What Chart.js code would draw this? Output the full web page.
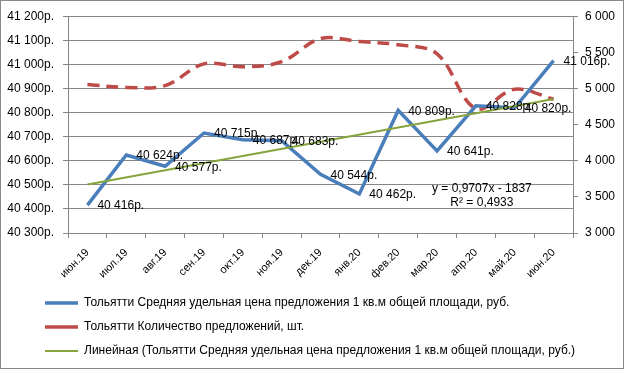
<!DOCTYPE html>
<html>
<head>
<meta charset="utf-8">
<script src="https://cdn.jsdelivr.net/npm/chart.js@4.4.0/dist/chart.umd.min.js"></script>
<style>
html,body{margin:0;padding:0;background:#fff}
</style>
</head>
<body>
<canvas id="myCanvas" width="624" height="369"></canvas>
<script>
// data
var months = ["июн.19","июл.19","авг.19","сен.19","окт.19","ноя.19","дек.19","янв.20","фев.20","мар.20","апр.20","май.20","июн.20"];
var price = [40416, 40624, 40577, 40715, 40687, 40683, 40544, 40462, 40809, 40641, 40828, 40820, 41016];
var offers = [5055, 5015, 5040, 5340, 5300, 5370, 5690, 5650, 5605, 5480, 4720, 4990, 4850];
// trend line ends (Excel linear trendline)
var trend = [40501, null, null, null, null, null, null, null, null, null, null, null, 40856];
var priceTicks = [40300, 40400, 40500, 40600, 40700, 40800, 40900, 41000, 41100, 41200];
var offerTicks = [3000, 3500, 4000, 4500, 5000, 5500, 6000];
var equation = ["y = 0,9707x - 1837", "R² = 0,4933"];

var nameBlue = "Тольятти Средняя удельная цена предложения 1 кв.м общей площади, руб.";
var nameRed = "Тольятти Количество предложений, шт.";
var nameGreen = "Линейная (Тольятти Средняя удельная цена предложения 1 кв.м общей площади, руб.)";

var gridCol = "#868686";

function fmt(v){
    return String(Math.round(v)).replace(/\B(?=(\d{3})+(?!\d))/g, " ");
}

Chart.defaults.font.family = "'Liberation Sans', Arial, sans-serif";
Chart.defaults.font.size = 12;
Chart.defaults.color = "#000";

var frame = {
    id: "frame",
    afterLayout: function(chart){
        // legend rows start indented like in Excel
        chart.legend.left = 33;
    },
    beforeDraw: function(chart){
        var c = chart.ctx;
        c.save();
        c.fillStyle = "#fff";
        c.fillRect(0, 0, chart.width, chart.height);
        c.strokeStyle = "#888";
        c.lineWidth = 1;
        c.strokeRect(0.5, 0.5, chart.width - 1, chart.height - 1);
        c.restore();
    }
};

var valueLabels = {
    id: "valueLabels",
    afterDatasetsDraw: function(chart){
        var c = chart.ctx;
        var meta = chart.getDatasetMeta(0);
        c.save();
        c.font = "12px 'Liberation Sans', Arial, sans-serif";
        c.fillStyle = "#000";
        c.textAlign = "left";
        c.textBaseline = "middle";
        meta.data.forEach(function(pt, i){
            c.fillText(fmt(price[i]) + "р.", pt.x + 10, pt.y + 1);
        });
        // trendline equation
        var xs = chart.scales.x, ys = chart.scales.y;
        var ex = xs.getPixelForValue(10) + 6;
        var ey = ys.getPixelForValue(40485);
        c.textAlign = "center";
        c.fillText(equation[0], ex, ey);
        c.fillText(equation[1], ex, ey + 14);
        c.restore();
    }
};

var ctx = document.getElementById("myCanvas").getContext("2d");

var data = {
    labels: months,
    datasets: [
        {
            label: nameBlue,
            data: price,
            yAxisID: "y",
            borderColor: "#4a7ebb",
            backgroundColor: "#4a7ebb",
            borderWidth: 3.5,
            pointRadius: 0,
            tension: 0,
            fill: false,
            order: 1
        },
        {
            label: nameRed,
            data: offers,
            yAxisID: "y1",
            borderColor: "#be4b48",
            backgroundColor: "#be4b48",
            borderWidth: 3.5,
            borderDash: [12, 7],
            pointRadius: 0,
            tension: 0.35,
            fill: false,
            order: 2
        },
        {
            label: nameGreen,
            data: trend,
            yAxisID: "y",
            borderColor: "#86a43c",
            backgroundColor: "#86a43c",
            borderWidth: 2,
            pointRadius: 0,
            spanGaps: true,
            fill: false,
            order: 0
        }
    ]
};

var options = {
    responsive: false,
    animation: false,
    devicePixelRatio: 1,
    layout: { padding: { left: 0, right: 0, top: 14, bottom: 2 } },
    plugins: {
        title: { display: false },
        tooltip: { enabled: false },
        legend: {
            display: true,
            position: "bottom",
            align: "start",
            labels: {
                usePointStyle: true,
                pointStyle: "line",
                pointStyleWidth: 33,
                padding: 12,
                color: "#000",
                font: { size: 12 },
                sort: function(a, b){ return a.datasetIndex - b.datasetIndex; }
            }
        }
    },
    scales: {
        x: {
            type: "category",
            offset: true,
            grid: { offset: true, drawOnChartArea: false, drawTicks: true, tickLength: 5, color: gridCol },
            border: { color: gridCol },
            ticks: { autoSkip: false, minRotation: 45, maxRotation: 45, padding: 8, font: { size: 11 } },
            afterFit: function(s){ s.height = 52; }
        },
        y: {
            position: "left",
            min: 40300,
            max: 41200,
            grid: { color: gridCol, tickLength: 5 },
            border: { color: gridCol },
            ticks: { padding: 9, callback: function(v){ return fmt(v) + "р."; } },
            afterBuildTicks: function(s){ s.ticks = priceTicks.map(function(v){ return { value: v }; }); },
            afterFit: function(s){ s.width = 68; }
        },
        y1: {
            position: "right",
            min: 3000,
            max: 6000,
            grid: { drawOnChartArea: false, tickLength: 5, color: gridCol },
            border: { color: gridCol },
            ticks: { padding: 7, callback: function(v){ return fmt(v); } },
            afterBuildTicks: function(s){ s.ticks = offerTicks.map(function(v){ return { value: v }; }); },
            afterFit: function(s){ s.width = 51; }
        }
    }
};

var chart = new Chart(ctx, {
    type: "line",
    data: data,
    options: options,
    plugins: [frame, valueLabels]
});
</script>
</body>
</html>
